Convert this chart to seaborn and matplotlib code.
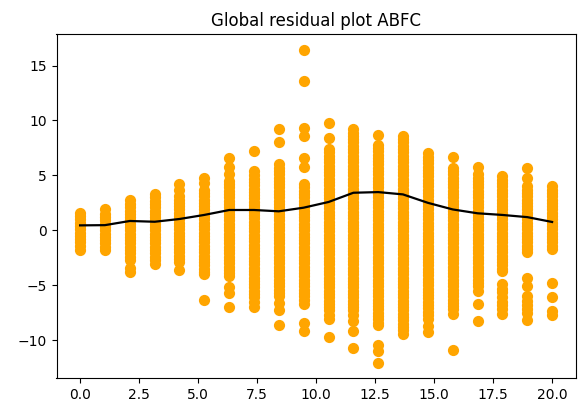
import matplotlib
matplotlib.use("Agg")
import matplotlib.pyplot as plt
import seaborn as sns
import pandas as pd

x_positions = [0.0, 1.05, 2.11, 3.16, 4.21, 5.26, 6.32, 7.37, 8.42, 9.47,
               10.53, 11.58, 12.63, 13.68, 14.74, 15.79, 16.84, 17.89, 18.95, 20.0]

c0 = [1.6, 1.3, 1.0, 0.7, 0.4, 0.1, -0.2, -0.5, -0.8, -1.1, -1.4, -1.75]
c1 = [1.9, 1.5, 1.2, 0.9, 0.6, 0.3, 0.0, -0.3, -0.6, -0.9, -1.2, -1.5, -1.75]
c2 = [2.8, 2.4, 2.1, 1.8, 1.5, 1.2, 0.9, 0.6, 0.3, 0.0, -0.3, -0.6, -0.9, -1.2,
      -1.5, -1.8, -2.1, -2.4, -2.7, -3.4, -3.8]
c3 = [3.3, 3.0, 2.7, 2.4, 2.1, 1.8, 1.5, 1.2, 0.9, 0.6, 0.3, 0.0, -0.3, -0.6, -0.9,
      -1.2, -1.5, -1.8, -2.1, -2.4, -2.7, -3.1]
c4 = [4.2, 3.7, 3.1, 2.8, 2.5, 2.2, 1.9, 1.6, 1.3, 1.0, 0.7, 0.4, 0.1, -0.2, -0.5,
      -0.8, -1.1, -1.4, -1.7, -2.0, -2.3, -2.6, -2.9, -3.6]
c5 = [4.8, 4.3, 3.7, 3.4, 3.1, 2.8, 2.5, 2.2, 1.9, 1.6, 1.3, 1.0, 0.7, 0.4, 0.1,
      -0.2, -0.5, -0.8, -1.1, -1.4, -1.7, -2.0, -2.3, -2.6, -2.9, -3.2, -3.5, -3.8,
      -4.0, -6.3]
c6 = [6.6, 5.8, 5.1, 4.5, 4.2, 3.9, 3.6, 3.3, 3.0, 2.7, 2.4, 2.1, 1.8, 1.5, 1.2,
      0.9, 0.6, 0.3, 0.0, -0.3, -0.6, -0.9, -1.2, -1.5, -1.8, -2.1, -2.4, -2.7,
      -3.0, -3.3, -3.6, -3.9, -4.15, -5.2, -5.7, -7.0]
c7 = [7.2, 5.4, 5.0, 4.7, 4.4, 4.1, 3.8, 3.5, 3.2, 2.9, 2.6, 2.3, 2.0, 1.7, 1.4,
      1.1, 0.8, 0.5, 0.2, -0.1, -0.4, -0.7, -1.0, -1.3, -1.6, -1.9, -2.2, -2.5,
      -2.8, -3.1, -3.4, -3.7, -4.0, -4.3, -4.6, -4.9, -5.2, -5.5, -5.8, -6.1,
      -6.5, -7.0]
c8 = [9.2, 8.0, 6.0, 5.7, 5.4, 5.1, 4.8, 4.5, 4.2, 3.9, 3.6, 3.3, 3.0, 2.7, 2.4,
      2.1, 1.8, 1.5, 1.2, 0.9, 0.6, 0.3, 0.0, -0.3, -0.6, -0.9, -1.2, -1.5, -1.8,
      -2.1, -2.4, -2.7, -3.0, -3.3, -3.6, -3.9, -4.2, -4.5, -4.8, -5.1, -5.4,
      -5.7, -6.0, -6.6, -7.3, -8.6]
c9 = [16.45, 13.6, 9.3, 8.6, 6.6, 5.8, 4.2, 3.9, 3.6, 3.3, 3.0, 2.7, 2.4, 2.1,
      1.8, 1.5, 1.2, 0.9, 0.6, 0.3, 0.0, -0.3, -0.6, -0.9, -1.2, -1.5, -1.8,
      -2.1, -2.4, -2.7, -3.0, -3.3, -3.6, -3.9, -4.2, -4.5, -4.8, -5.1, -5.4,
      -5.7, -6.0, -6.3, -6.7, -8.4, -9.15]
c10 = [9.8, 8.4, 7.4, 7.1, 6.8, 6.5, 6.2, 5.9, 5.6, 5.3, 5.0, 4.7, 4.4, 4.1, 3.8,
       3.5, 3.2, 2.9, 2.6, 2.3, 2.0, 1.7, 1.4, 1.1, 0.8, 0.5, 0.2, -0.1, -0.4,
       -0.7, -1.0, -1.3, -1.6, -1.9, -2.2, -2.5, -2.8, -3.1, -3.4, -3.7, -4.0,
       -4.3, -4.6, -4.9, -5.2, -5.5, -5.8, -6.1, -6.4, -6.7, -7.0, -7.3, -7.7,
       -8.1, -9.75]
c11 = [9.2, 8.9, 8.6, 8.3, 8.0, 7.7, 7.4, 7.1, 6.8, 6.5, 6.2, 5.9, 5.6, 5.3, 5.0,
       4.7, 4.4, 4.1, 3.8, 3.5, 3.2, 2.9, 2.6, 2.3, 2.0, 1.7, 1.4, 1.1, 0.8, 0.5,
       0.2, -0.1, -0.4, -0.7, -1.0, -1.3, -1.6, -1.9, -2.2, -2.5, -2.8, -3.1,
       -3.4, -3.7, -4.0, -4.3, -4.6, -4.9, -5.2, -5.5, -5.8, -6.1, -6.4, -6.7,
       -7.0, -7.3, -7.7, -8.25, -9.2, -10.7]
c12 = [8.7, 7.8, 7.5, 7.2, 6.9, 6.6, 6.3, 6.0, 5.7, 5.4, 5.1, 4.8, 4.5, 4.2, 3.9,
       3.6, 3.3, 3.0, 2.7, 2.4, 2.1, 1.8, 1.5, 1.2, 0.9, 0.6, 0.3, 0.0, -0.3,
       -0.6, -0.9, -1.2, -1.5, -1.8, -2.1, -2.4, -2.7, -3.0, -3.3, -3.6, -3.9,
       -4.2, -4.5, -4.8, -5.1, -5.4, -5.7, -6.0, -6.3, -6.6, -6.9, -7.2, -7.5,
       -7.8, -8.1, -8.4, -8.6, -10.4, -11.0, -12.05]
c13 = [8.6, 8.3, 8.0, 7.7, 7.4, 7.1, 6.8, 6.5, 6.2, 5.9, 5.6, 5.3, 5.0, 4.7, 4.4,
       4.1, 3.8, 3.5, 3.2, 2.9, 2.6, 2.3, 2.0, 1.7, 1.4, 1.1, 0.8, 0.5, 0.2, -0.1,
       -0.4, -0.7, -1.0, -1.3, -1.6, -1.9, -2.2, -2.5, -2.8, -3.1, -3.4, -3.7,
       -4.0, -4.3, -4.6, -4.9, -5.2, -5.5, -5.8, -6.1, -6.4, -6.7, -7.0, -7.3,
       -7.6, -7.9, -8.2, -8.5, -8.8, -9.1, -9.45]
c14 = [7.05, 6.7, 6.4, 6.1, 5.8, 5.5, 5.2, 4.9, 4.6, 4.3, 4.0, 3.7, 3.4, 3.1, 2.8,
       2.5, 2.2, 1.9, 1.6, 1.3, 1.0, 0.7, 0.4, 0.1, -0.2, -0.5, -0.8, -1.1, -1.4,
       -1.7, -2.0, -2.3, -2.6, -2.9, -3.2, -3.5, -3.8, -4.1, -4.4, -4.7, -5.0,
       -5.3, -5.6, -5.9, -6.2, -6.5, -6.8, -7.1, -7.4, -7.7, -8.1, -8.7, -9.3]
c15 = [6.7, 5.7, 5.4, 5.1, 4.8, 4.5, 4.2, 3.9, 3.6, 3.3, 3.0, 2.7, 2.4, 2.1, 1.8,
       1.5, 1.2, 0.9, 0.6, 0.3, 0.0, -0.3, -0.6, -0.9, -1.2, -1.5, -1.8, -2.1,
       -2.4, -2.7, -3.0, -3.3, -3.6, -3.9, -4.2, -4.5, -4.8, -5.1, -5.4, -5.7,
       -6.0, -6.3, -6.6, -6.9, -7.2, -7.6, -10.9]
c16 = [5.8, 5.1, 4.8, 4.5, 4.2, 3.9, 3.6, 3.3, 3.0, 2.7, 2.4, 2.1, 1.8, 1.5, 1.2,
       0.9, 0.6, 0.3, 0.0, -0.3, -0.6, -0.9, -1.2, -1.5, -1.8, -2.1, -2.4, -2.7,
       -3.0, -3.3, -3.6, -3.9, -4.2, -4.5, -4.8, -5.1, -5.5, -6.7, -8.3]
c17 = [4.9, 4.6, 4.3, 4.0, 3.7, 3.4, 3.1, 2.8, 2.5, 2.2, 1.9, 1.6, 1.3, 1.0, 0.7,
       0.4, 0.1, -0.2, -0.5, -0.8, -1.1, -1.4, -1.7, -2.0, -2.3, -2.6, -2.9,
       -3.2, -3.5, -3.7, -4.9, -5.3, -5.6, -6.1, -6.5, -6.8, -7.2, -7.6]
c18 = [5.7, 4.8, 4.0, 3.7, 3.4, 3.1, 2.8, 2.5, 2.2, 1.9, 1.6, 1.3, 1.0, 0.7, 0.4,
       0.1, -0.2, -0.5, -0.8, -1.1, -1.4, -1.7, -2.0, -4.3, -5.1, -6.0, -6.4,
       -6.8, -7.2, -7.5, -8.2]
c19 = [4.0, 3.7, 3.4, 3.1, 2.8, 2.5, 2.2, 1.9, 1.6, 1.3, 1.0, 0.7, 0.4, 0.1, -0.2,
       -0.5, -0.8, -1.1, -1.4, -1.7, -4.8, -6.1, -7.35, -7.75]

residual_columns = [c0, c1, c2, c3, c4, c5, c6, c7, c8, c9, c10, c11, c12, c13,
                    c14, c15, c16, c17, c18, c19]

trend_values = [0.45, 0.47, 0.85, 0.78, 1.03, 1.4, 1.85, 1.85, 1.73, 2.06, 2.58,
                3.42, 3.48, 3.27, 2.5, 1.9, 1.55, 1.4, 1.2, 0.76]

title_text = "Global residual plot ABFC"

rows = []
for xv, col in zip(x_positions, residual_columns):
    for yv in col:
        rows.append((xv, yv))
scatter_df = pd.DataFrame(rows, columns=["x", "residual"])
trend_df = pd.DataFrame({"x": x_positions, "trend": trend_values})

fig = plt.figure(figsize=(5.8, 4.07), dpi=100)
ax = fig.add_axes([56.5 / 580, 1 - 378.3 / 407, 519.2 / 580, 344.3 / 407])

sns.scatterplot(data=scatter_df, x="x", y="residual", color="orange", s=65,
                linewidth=0, ax=ax, zorder=2)
sns.lineplot(data=trend_df, x="x", y="trend", color="black", linewidth=1.6,
             ax=ax, zorder=3)

ax.set_xlabel("")
ax.set_ylabel("")
ax.set_title(title_text, fontsize=12)
ax.margins(0.05)

fig.savefig("out.png", dpi=100)
